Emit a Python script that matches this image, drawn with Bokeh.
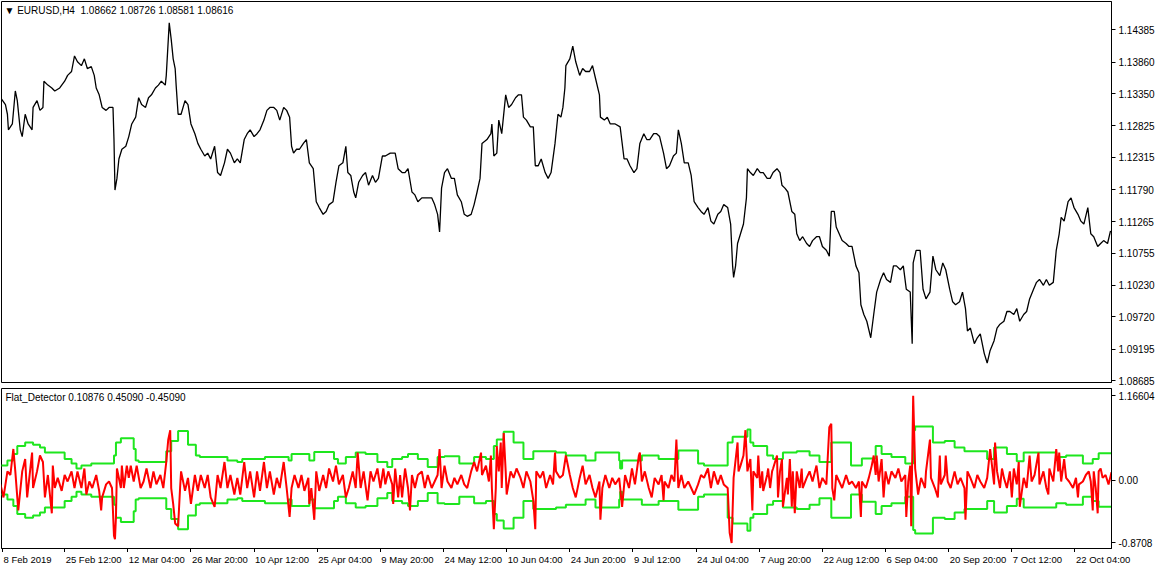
from bokeh.plotting import figure
from bokeh.layouts import column
from bokeh.models import (Range1d, FixedTicker, PrintfTickFormatter, CustomJSTickFormatter, Label,
                          ColumnDataSource)
from bokeh.core.properties import value
from bokeh.embed import file_html
from bokeh.resources import INLINE

FONT = "Liberation Sans"

# ---------------- data ----------------
price_bar = [0, 5, 7, 8, 12, 15, 17, 20, 22, 25, 28, 32, 33, 37, 40, 43, 44, 48, 52, 55, 60, 65, 68, 72, 75, 78,
             82, 85, 88, 92, 95, 97, 100, 103, 107, 110, 114, 115, 116, 118, 120, 123, 127, 130, 133, 137, 140,
             143, 147, 150, 153, 157, 160, 163, 167, 168, 171, 173, 175, 177, 178, 180, 183, 187, 190, 193, 197,
             200, 203, 207, 210, 213, 217, 220, 223, 227, 230, 233, 237, 240, 243, 247, 250, 253, 257, 260, 263,
             267, 270, 273, 277, 280, 283, 287, 290, 293, 295, 297, 300, 303, 307, 310, 313, 317, 320, 323, 327,
             330, 333, 337, 340, 343, 347, 350, 352, 355, 358, 360, 363, 367, 370, 373, 377, 380, 383, 387, 390,
             395, 400, 403, 407, 410, 413, 417, 420, 423, 427, 430, 433, 437, 440, 443, 445, 447, 450, 453, 457,
             460, 463, 467, 470, 473, 477, 480, 483, 486, 488, 493, 497, 498, 500, 503, 505, 508, 512, 515, 518,
             522, 525, 528, 530, 533, 537, 540, 542, 545, 548, 552, 555, 558, 562, 565, 568, 570, 572, 573, 577,
             580, 583, 587, 590, 593, 597, 600, 603, 607, 608, 612, 615, 618, 623, 628, 632, 635, 638, 642, 645,
             648, 652, 655, 658, 662, 665, 668, 672, 675, 678, 682, 685, 687, 690, 693, 697, 700, 703, 707, 710,
             713, 717, 720, 723, 727, 730, 733, 737, 740, 742, 743, 745, 747, 750, 753, 756, 757, 760, 763, 767,
             770, 773, 777, 780, 783, 787, 790, 792, 795, 798, 802, 805, 807, 810, 813, 817, 820, 823, 827, 830,
             833, 837, 840, 842, 845, 847, 850, 853, 857, 860, 863, 867, 870, 872, 875, 878, 882, 885, 888, 892,
             895, 898, 902, 905, 908, 912, 915, 918, 922, 924, 925, 928, 932, 935, 938, 942, 945, 948, 952, 955,
             958, 962, 965, 968, 972, 975, 978, 980, 983, 987, 990, 993, 997, 1000, 1003, 1007, 1010, 1013, 1017,
             1020, 1023, 1027, 1030, 1033, 1037, 1040, 1043, 1047, 1050, 1053, 1057, 1060, 1063, 1067, 1070, 1073,
             1075, 1078, 1082, 1085, 1088, 1092, 1095, 1098, 1102, 1105, 1108, 1112, 1115, 1118, 1122, 1125]
price_close = [1.13283, 1.13172, 1.13014, 1.12761, 1.12856, 1.13393, 1.13235, 1.12761, 1.12651, 1.13014, 1.12856,
               1.12761, 1.13125, 1.13235, 1.13077, 1.13125, 1.13551, 1.13488, 1.13441, 1.13393, 1.13441, 1.13551,
               1.13646, 1.13709, 1.13962, 1.13867, 1.13804, 1.13915, 1.13757, 1.13788, 1.13646, 1.13441, 1.13330,
               1.13125, 1.13077, 1.13125, 1.13125, 1.12603, 1.11782, 1.11971, 1.12287, 1.12445, 1.12493, 1.12651,
               1.12856, 1.12967, 1.13283, 1.13172, 1.13125, 1.13283, 1.13330, 1.13441, 1.13488, 1.13551, 1.13488,
               1.13646, 1.14499, 1.14231, 1.13915, 1.13757, 1.13488, 1.13014, 1.13014, 1.13235, 1.13172, 1.12856,
               1.12698, 1.12540, 1.12445, 1.12335, 1.12382, 1.12287, 1.12493, 1.12066, 1.12019, 1.12224, 1.12445,
               1.12382, 1.12224, 1.12287, 1.12224, 1.12603, 1.12698, 1.12761, 1.12651, 1.12698, 1.12761, 1.12919,
               1.13077, 1.13125, 1.13125, 1.13077, 1.12919, 1.13125, 1.13077, 1.12967, 1.12493, 1.12382, 1.12445,
               1.12445, 1.12540, 1.12603, 1.12224, 1.12129, 1.11592, 1.11497, 1.11387, 1.11434, 1.11545, 1.11592,
               1.11908, 1.12177, 1.12224, 1.12493, 1.12066, 1.12019, 1.11750, 1.11655, 1.11908, 1.12019, 1.12066,
               1.11861, 1.12019, 1.11908, 1.11971, 1.12335, 1.12335, 1.12382, 1.12382, 1.12129, 1.12066, 1.12066,
               1.12129, 1.11750, 1.11703, 1.11592, 1.11655, 1.11655, 1.11655, 1.11655, 1.11545, 1.11387, 1.11102,
               1.11813, 1.12066, 1.12129, 1.11971, 1.11971, 1.11703, 1.11592, 1.11387, 1.11355, 1.11387, 1.11545,
               1.11750, 1.11971, 1.12540, 1.12603, 1.12698, 1.12856, 1.12335, 1.12382, 1.12919, 1.12698, 1.13330,
               1.13125, 1.13172, 1.13283, 1.13330, 1.13330, 1.12967, 1.12919, 1.12809, 1.12809, 1.12177, 1.12177,
               1.12287, 1.12066, 1.11971, 1.12066, 1.12540, 1.13014, 1.12967, 1.13125, 1.13441, 1.13804, 1.13915,
               1.14120, 1.13867, 1.13646, 1.13757, 1.13709, 1.13709, 1.13804, 1.13599, 1.13330, 1.12967, 1.12919,
               1.12967, 1.12856, 1.12856, 1.12809, 1.12287, 1.12287, 1.12177, 1.12066, 1.12129, 1.12540, 1.12698,
               1.12603, 1.12603, 1.12698, 1.12698, 1.12651, 1.12382, 1.12129, 1.12177, 1.12335, 1.12382, 1.12761,
               1.12540, 1.12224, 1.12224, 1.12019, 1.11592, 1.11497, 1.11434, 1.11387, 1.11497, 1.11276, 1.11229,
               1.11387, 1.11434, 1.11545, 1.11497, 1.11229, 1.10549, 1.10360, 1.10549, 1.10913, 1.11071, 1.11229,
               1.11655, 1.12129, 1.12066, 1.12019, 1.12129, 1.12066, 1.12066, 1.11971, 1.11971, 1.12066, 1.12129,
               1.12066, 1.11861, 1.11813, 1.11750, 1.11434, 1.11387, 1.11071, 1.10960, 1.11023, 1.10913, 1.10865,
               1.10960, 1.11023, 1.11023, 1.10865, 1.10802, 1.10707, 1.11434, 1.11434, 1.11181, 1.11071, 1.10960,
               1.10913, 1.10865, 1.10865, 1.10549, 1.10439, 1.09917, 1.09759, 1.09649, 1.09380, 1.09759, 1.10123,
               1.10328, 1.10439, 1.10328, 1.10281, 1.10549, 1.10549, 1.10486, 1.10549, 1.10170, 1.10123, 1.09285,
               1.10597, 1.10802, 1.10802, 1.10170, 1.10012, 1.10123, 1.10707, 1.10486, 1.10391, 1.10597, 1.10486,
               1.10170, 1.09965, 1.09917, 1.09965, 1.10123, 1.09854, 1.09491, 1.09538, 1.09285, 1.09380, 1.09443,
               1.09127, 1.08969, 1.09175, 1.09333, 1.09538, 1.09601, 1.09649, 1.09807, 1.09807, 1.09759, 1.09854,
               1.09649, 1.09759, 1.09807, 1.10012, 1.10170, 1.10281, 1.10328, 1.10233, 1.10328, 1.10233, 1.10281,
               1.10802, 1.11071, 1.11339, 1.11276, 1.11592, 1.11655, 1.11497, 1.11387, 1.11276, 1.11229, 1.11497,
               1.11071, 1.11023, 1.10865, 1.10913, 1.10960, 1.10913, 1.11118]

ind_bar = [0, 3, 7, 10, 13, 15, 18, 22, 25, 27, 32, 33, 37, 40, 43, 45, 48, 52, 53, 55, 58, 62, 65, 68, 72, 75,
           78, 82, 85, 87, 90, 93, 97, 100, 102, 103, 107, 110, 113, 115, 116, 117, 118, 122, 123, 125, 128, 130,
           132, 135, 138, 142, 145, 148, 152, 155, 158, 162, 165, 168, 170, 172, 173, 175, 177, 180, 182, 183,
           187, 190, 193, 197, 200, 203, 207, 210, 213, 217, 220, 223, 227, 230, 233, 237, 240, 243, 247, 250,
           253, 257, 260, 263, 267, 270, 273, 277, 280, 283, 287, 290, 293, 295, 298, 302, 305, 308, 312, 313,
           315, 318, 320, 323, 327, 330, 333, 337, 340, 343, 347, 350, 353, 357, 360, 362, 365, 368, 372, 375,
           378, 382, 385, 388, 390, 393, 397, 398, 400, 403, 405, 407, 410, 413, 415, 417, 420, 423, 427, 430,
           433, 437, 440, 443, 445, 447, 450, 453, 457, 460, 463, 467, 470, 473, 477, 480, 483, 487, 488, 492,
           495, 497, 498, 500, 502, 503, 505, 507, 508, 510, 512, 513, 517, 520, 523, 527, 530, 533, 537, 540,
           542, 543, 547, 550, 553, 557, 560, 562, 563, 567, 570, 573, 577, 580, 583, 587, 590, 593, 597, 600,
           603, 607, 608, 610, 613, 617, 620, 623, 627, 630, 633, 637, 640, 643, 647, 648, 650, 653, 657, 660,
           663, 667, 670, 672, 673, 677, 680, 683, 685, 687, 690, 693, 697, 700, 703, 707, 710, 713, 717, 720,
           723, 727, 730, 733, 737, 739, 741, 743, 747, 748, 750, 753, 755, 757, 760, 762, 763, 767, 768, 770,
           772, 773, 777, 778, 780, 782, 783, 787, 788, 790, 792, 793, 797, 798, 800, 802, 803, 805, 807, 810,
           812, 813, 817, 820, 823, 827, 830, 833, 837, 840, 842, 843, 845, 847, 850, 853, 857, 860, 863, 867,
           870, 872, 873, 877, 880, 883, 885, 887, 888, 890, 893, 895, 897, 900, 903, 907, 910, 913, 917, 918,
           920, 922, 923, 925, 927, 930, 933, 937, 938, 942, 943, 947, 950, 952, 953, 957, 958, 960, 963, 967,
           970, 973, 977, 978, 980, 983, 987, 990, 993, 997, 1000, 1003, 1007, 1008, 1010, 1013, 1015, 1017,
           1020, 1023, 1025, 1027, 1030, 1032, 1033, 1037, 1040, 1043, 1045, 1048, 1052, 1053, 1057, 1060, 1062,
           1063, 1067, 1070, 1072, 1073, 1075, 1078, 1080, 1083, 1087, 1090, 1092, 1093, 1097, 1100, 1103, 1105,
           1107, 1108, 1110, 1112, 1113, 1115, 1117, 1120, 1123, 1126]
ind_value = [-0.06, -0.24, 0.12, 0.07, 0.43, 0.12, -0.42, 0.12, 0.29, -0.24, 0.38, -0.11, 0.12, 0.34, 0.25, -0.24,
             0.07, -0.46, 0.20, -0.11, 0.03, -0.15, 0.07, -0.02, 0.12, -0.11, 0.12, -0.11, 0.16, -0.20, -0.02,
             -0.11, 0.07, -0.15, -0.42, -0.24, -0.06, -0.02, -0.11, -0.77, -0.82, -0.51, 0.16, -0.11, 0.20, -0.11,
             0.20, 0.03, 0.20, -0.02, 0.20, -0.11, -0.02, 0.16, -0.11, 0.12, -0.06, 0.07, -0.11, 0.25, 0.56, 0.69,
             -0.11, -0.33, -0.60, -0.64, -0.11, 0.12, -0.15, 0.03, -0.33, 0.07, -0.15, 0.07, -0.11, 0.07, -0.24,
             -0.37, 0.07, -0.11, 0.25, -0.11, 0.07, -0.20, 0.03, -0.20, 0.25, -0.11, 0.12, -0.24, 0.12, -0.15,
             0.25, -0.11, 0.12, -0.20, 0.03, -0.11, 0.25, -0.11, -0.51, -0.11, 0.07, -0.11, 0.07, -0.15, 0.03,
             -0.33, -0.11, -0.55, 0.12, -0.15, 0.07, -0.11, 0.16, -0.02, 0.20, -0.06, 0.07, -0.24, -0.11, 0.12,
             -0.11, 0.38, -0.11, 0.12, -0.28, 0.12, -0.02, 0.16, -0.11, 0.16, -0.06, 0.12, -0.06, -0.33, 0.16,
             -0.24, 0.07, -0.24, 0.16, -0.11, -0.42, 0.07, -0.11, 0.07, 0.12, -0.11, 0.07, -0.11, -0.02, 0.07,
             0.43, -0.11, 0.20, -0.02, -0.11, 0.03, -0.06, 0.07, -0.06, -0.11, 0.12, 0.25, 0.12, 0.38, 0.07, 0.20,
             -0.02, 0.34, -0.11, -0.68, -0.11, 0.47, 0.12, 0.52, -0.11, 0.65, 0.12, -0.20, 0.12, 0.03, 0.16, 0.03,
             -0.11, 0.12, -0.02, -0.28, -0.68, 0.12, 0.03, 0.12, -0.11, 0.07, -0.06, 0.38, 0.12, 0.03, 0.07, 0.34,
             0.07, -0.11, -0.24, 0.03, 0.20, -0.06, 0.07, -0.11, -0.24, -0.02, -0.55, -0.11, 0.07, -0.11, 0.03,
             -0.06, 0.03, -0.37, 0.07, -0.11, 0.16, -0.06, 0.34, 0.38, -0.02, 0.12, -0.11, -0.24, 0.03, -0.06,
             0.07, -0.28, -0.02, -0.11, 0.07, -0.02, 0.56, -0.11, 0.07, -0.11, -0.02, -0.11, -0.20, -0.06, 0.07,
             0.03, 0.16, -0.11, 0.12, -0.06, 0.07, -0.06, -0.11, -0.73, -0.87, 0.03, 0.52, 0.12, 0.20, 0.34, 0.69,
             0.12, 0.29, -0.42, 0.12, 0.03, 0.34, -0.11, 0.12, -0.15, 0.07, 0.16, -0.11, 0.12, 0.16, 0.34, -0.24,
             0.12, 0.29, -0.37, 0.03, -0.20, 0.29, -0.37, 0.12, -0.46, 0.12, -0.11, 0.16, -0.11, 0.03, 0.12, -0.02,
             0.20, -0.11, 0.03, -0.06, 0.73, 0.78, -0.11, -0.28, 0.07, -0.02, -0.11, 0.07, -0.06, -0.02, -0.11,
             -0.02, -0.51, -0.02, -0.11, 0.03, 0.20, 0.34, 0.07, 0.34, -0.02, 0.29, -0.24, 0.12, -0.06, 0.12, 0.03,
             0.16, -0.02, 0.07, -0.51, -0.02, 0.20, -0.64, 1.166, 0.16, -0.20, 0.03, -0.11, 0.12, 0.56, 0.03, -0.11,
             -0.24, 0.34, -0.06, 0.07, 0.34, -0.02, -0.11, 0.12, -0.06, 0.03, -0.11, -0.55, 0.12, 0.03, -0.11,
             0.07, -0.02, -0.11, 0.03, 0.43, -0.06, 0.52, 0.12, -0.11, 0.16, 0.03, -0.11, 0.12, -0.24, 0.16, -0.06,
             0.25, -0.37, 0.03, -0.11, 0.34, -0.02, 0.07, 0.38, -0.06, 0.12, -0.11, -0.20, 0.16, -0.02, 0.43, 0.12,
             0.38, -0.02, 0.29, 0.03, -0.02, -0.11, 0.03, -0.24, -0.06, -0.02, 0.07, 0.12, -0.02, -0.42, 0.12,
             -0.11, -0.46, 0.12, 0.16, 0.03, 0.07, -0.06, 0.11]

band_bar = [0, 7, 13, 17, 25, 33, 40, 45, 65, 72, 77, 82, 92, 115, 117, 122, 135, 137, 140, 168, 173, 180, 190,
            198, 202, 230, 240, 245, 268, 292, 295, 313, 318, 338, 342, 350, 360, 370, 382, 392, 397, 407, 413,
            423, 433, 443, 450, 465, 480, 492, 500, 503, 510, 520, 530, 540, 563, 573, 593, 603, 627, 628, 630,
            650, 667, 687, 707, 713, 737, 742, 757, 760, 763, 777, 783, 793, 807, 820, 830, 842, 862, 873, 887,
            893, 903, 917, 925, 927, 945, 957, 967, 977, 1000, 1007, 1020, 1030, 1037, 1070, 1080, 1097, 1107,
            1113, 1126]
band_value = [0.20, 0.27, 0.36, 0.47, 0.52, 0.49, 0.45, 0.38, 0.29, 0.23, 0.16, 0.20, 0.23, 0.34, 0.52, 0.58,
              0.43, 0.27, 0.25, 0.40, 0.54, 0.68, 0.49, 0.34, 0.32, 0.27, 0.25, 0.29, 0.32, 0.27, 0.36, 0.27,
              0.39, 0.29, 0.23, 0.32, 0.38, 0.36, 0.25, 0.18, 0.29, 0.32, 0.36, 0.29, 0.18, 0.32, 0.33, 0.23,
              0.32, 0.29, 0.47, 0.56, 0.67, 0.52, 0.29, 0.40, 0.38, 0.34, 0.27, 0.38, 0.27, 0.16, 0.27, 0.34,
              0.29, 0.41, 0.23, 0.20, 0.52, 0.60, 0.70, 0.52, 0.47, 0.34, 0.29, 0.38, 0.40, 0.34, 0.25, 0.52,
              0.20, 0.30, 0.47, 0.36, 0.32, 0.23, 0.69, 0.74, 0.52, 0.54, 0.45, 0.40, 0.29, 0.45, 0.36, 0.26,
              0.38, 0.32, 0.34, 0.23, 0.29, 0.37, 0.37]
band_lower = [-v for v in band_value]

price_ticks = [1.14385, 1.13860, 1.13350, 1.12825, 1.12315, 1.11790, 1.11265, 1.10755, 1.10230, 1.09720,
               1.09195, 1.08685]
ind_ticks = [1.16604, 0.0, -0.8708]
ind_tick_labels = ["1.16604", "0.00", "-0.8708"]

date_ticks = [2, 65, 129, 193, 257, 321, 385, 449, 513, 577, 641, 705, 769, 833, 897, 961, 1025, 1089]
date_labels = ["8 Feb 2019", "25 Feb 12:00", "12 Mar 04:00", "26 Mar 20:00", "10 Apr 12:00", "25 Apr 04:00",
               "9 May 20:00", "24 May 12:00", "10 Jun 04:00", "24 Jun 20:00", "9 Jul 12:00", "24 Jul 04:00",
               "7 Aug 20:00", "22 Aug 12:00", "6 Sep 04:00", "20 Sep 20:00", "7 Oct 12:00", "22 Oct 04:00"]

price_header = "\u25bc EURUSD,H4\u00a0\u00a01.08662 1.08726 1.08581 1.08616"
ind_header = "Flat_Detector 0.10876 0.45090 -0.45090"

# ---------------- figures ----------------
X0, X1 = 1, 1126
P_LO, P_HI = 1.08653, 1.14847
I_LO, I_HI = -0.947, 1.267
FRAME_W = 1110
P_FRAME_H = 381
I_FRAME_H = 160

x_range = Range1d(X0, X1)


def style_right_axis(ax):
    ax.major_label_text_font = FONT
    ax.major_label_text_font_size = "10px"
    ax.major_label_text_color = "black"
    ax.major_tick_out = 4
    ax.major_tick_in = 0
    ax.minor_tick_line_color = None
    ax.axis_line_color = "black"
    ax.major_tick_line_color = "black"
    ax.major_label_standoff = 3


def style_panel(p):
    p.grid.visible = False
    p.outline_line_color = "black"
    p.outline_line_alpha = 1.0
    p.background_fill_color = "white"
    p.border_fill_color = "white"


p1 = figure(frame_width=FRAME_W, frame_height=P_FRAME_H, x_range=x_range, y_range=Range1d(P_LO, P_HI),
            x_axis_location=None, y_axis_location="right", toolbar_location=None, output_backend="svg",
            min_border_left=1, min_border_top=1, min_border_bottom=6, min_border_right=0)
style_panel(p1)
p1.yaxis.ticker = FixedTicker(ticks=price_ticks)
p1.yaxis.formatter = PrintfTickFormatter(format="%.5f")
style_right_axis(p1.yaxis[0])
p1.line(price_bar, price_close, line_color="black", line_width=1.3)
p_px = (P_HI - P_LO) / P_FRAME_H
p1.add_layout(Label(x=4, y=P_HI - 3 * p_px, text=price_header, text_font=FONT, text_font_size="10px",
                    text_color="black", text_baseline="top"))

p2 = figure(frame_width=FRAME_W, frame_height=I_FRAME_H, x_range=x_range, y_range=Range1d(I_LO, I_HI),
            y_axis_location="right", toolbar_location=None, output_backend="svg",
            min_border_left=1, min_border_top=0, min_border_bottom=0, min_border_right=0)
style_panel(p2)
p2.yaxis.ticker = FixedTicker(ticks=ind_ticks)
p2.yaxis.formatter = CustomJSTickFormatter(args=dict(labels=ind_tick_labels), code="return labels[index];")
style_right_axis(p2.yaxis[0])

xa = p2.xaxis[0]
xa.ticker = FixedTicker(ticks=date_ticks)
xa.major_label_overrides = {t: "" for t in date_ticks}
xa.major_label_text_font_size = "1px"
xa.major_label_standoff = 0
xa.major_tick_out = 4
xa.major_tick_in = 0
xa.minor_tick_line_color = None
xa.axis_line_color = "black"
xa.major_tick_line_color = "black"

p2.step(band_bar, band_value, mode="after", line_color="#1ee61e", line_width=2)
p2.step(band_bar, band_lower, mode="after", line_color="#1ee61e", line_width=2)
p2.line(ind_bar, ind_value, line_color="#ff0000", line_width=2)
i_px = (I_HI - I_LO) / I_FRAME_H
p2.add_layout(Label(x=5, y=I_HI - 3 * i_px, text=ind_header, text_font=FONT, text_font_size="10px",
                    text_color="black", text_baseline="top"))

# strip of date labels, left-aligned at their ticks (same x scale as the panels)
STRIP_W = 1156
x3 = Range1d(X0, X0 + (X1 - X0) * STRIP_W / FRAME_W)
p3 = figure(frame_width=STRIP_W, frame_height=14, x_range=x3, y_range=Range1d(0, 1),
            x_axis_location=None, y_axis_location=None, toolbar_location=None, output_backend="svg",
            min_border_left=1, min_border_top=0, min_border_bottom=0, min_border_right=0)
p3.grid.visible = False
p3.outline_line_color = None
p3.background_fill_color = "white"
p3.border_fill_color = "white"
date_src = ColumnDataSource(dict(x=[t + 1 for t in date_ticks], y=[0.5] * len(date_ticks), text=date_labels))
p3.text(x="x", y="y", text="text", source=date_src, text_font=value(FONT), text_font_size=value("9.5px"),
        text_color="black", text_align="left", text_baseline="middle")

layout = column(p1, p2, p3, spacing=0)
open("out.html", "w").write(file_html(layout, INLINE))
